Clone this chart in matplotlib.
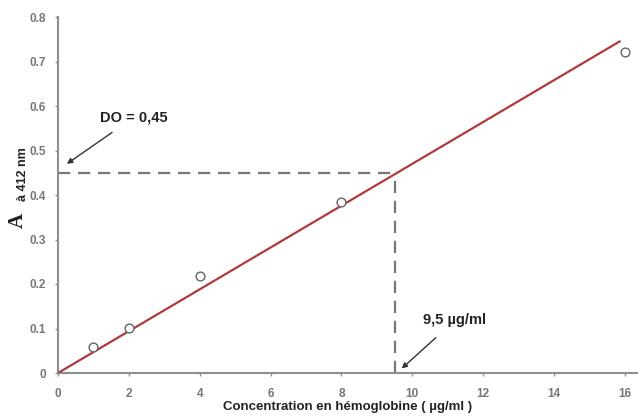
import matplotlib
matplotlib.use("Agg")
import matplotlib.pyplot as plt

conc = [1, 2, 4, 8, 16]
absorb = [0.058, 0.102, 0.217, 0.385, 0.722]
fit_x = [0, 15.85]
fit_y = [0, 0.745]
x_ticks = [0, 2, 4, 6, 8, 10, 12, 14, 16]
y_ticks = [0, 0.1, 0.2, 0.3, 0.4, 0.5, 0.6, 0.7, 0.8]
y_tick_labels = ["0", "0.1", "0.2", "0.3", "0.4", "0.5", "0.6", "0.7", "0.8"]
do_value = 0.45
conc_value = 9.5

plt.rcParams['font.family'] = ['Liberation Sans', 'DejaVu Sans']
fig = plt.figure(figsize=(6.38, 4.16), dpi=100)
ax = fig.add_axes([58/638, 43/416, 580/638, 356/416])
ax.set_xlim(0, 16.37)
ax.set_ylim(0, 0.8)

ax.plot(fit_x, fit_y, color='#b03a3a', lw=1.6, zorder=3)
ax.scatter(conc, absorb, s=40, facecolors='white', edgecolors='#666666', linewidths=1.0, zorder=4)

ax.plot([0, conc_value], [do_value, do_value], color='#777777', lw=1.6, dashes=(5.5, 3.5), zorder=2)
ax.plot([conc_value, conc_value], [0, do_value], color='#777777', lw=1.6, dashes=(5.5, 3.5), zorder=2)

for s in ['top', 'right']:
    ax.spines[s].set_visible(False)
for s in ['left', 'bottom']:
    ax.spines[s].set_color('#8a9090')
    ax.spines[s].set_linewidth(1.5)

ax.set_xticks(x_ticks)
ax.set_yticks(y_ticks)
ax.set_yticklabels(y_tick_labels)
ax.tick_params(axis='both', colors='#8a9090', labelcolor='#777777', labelsize=8.5, length=2.5, width=1)
ax.tick_params(axis='x', pad=8)
ax.tick_params(axis='y', pad=6)
for lab in ax.get_xticklabels() + ax.get_yticklabels():
    lab.set_fontweight('bold')

ax.set_xlabel("Concentration en hémoglobine ( µg/ml )", fontsize=9.5, fontweight='bold', color='#222222', labelpad=1)

fig.text(18/638, 1 - 220/416, "A", rotation=90, fontsize=15, fontweight='bold', family='Liberation Serif', color='#222222', ha='center', va='center')
fig.text(23/638, 1 - 174/416, "à 412 nm", rotation=90, fontsize=9, fontweight='bold', color='#222222', ha='center', va='center')

ax.annotate("DO = 0,45", xy=(0.25, 0.47), xytext=(2.15, 0.575), fontsize=10.5, fontweight='bold', color='#222222',
            ha='center', va='center',
            arrowprops=dict(arrowstyle='-|>', color='#333333', lw=1, shrinkA=7, shrinkB=0, mutation_scale=8))
ax.annotate("9,5 µg/ml", xy=(9.7, 0.01), xytext=(11.2, 0.118), fontsize=10.5, fontweight='bold', color='#222222',
            ha='center', va='center',
            arrowprops=dict(arrowstyle='-|>', color='#333333', lw=1, shrinkA=8, shrinkB=0, mutation_scale=8))

fig.savefig("out.png", dpi=100)
